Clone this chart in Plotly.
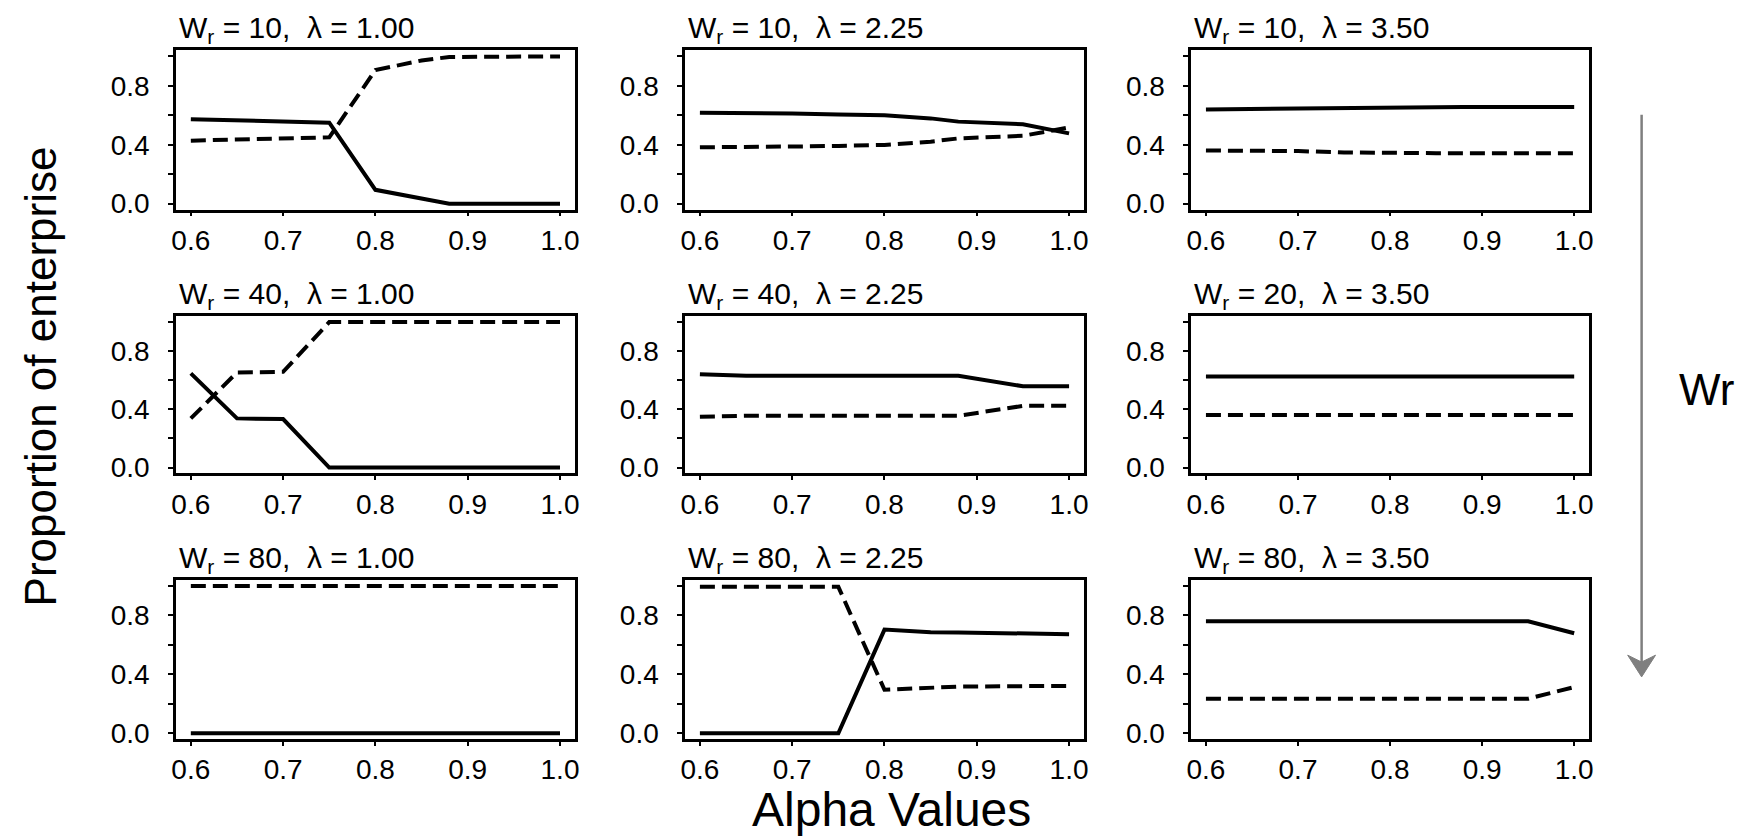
import plotly.graph_objects as go

W, H = 1746, 836
FONT = "Liberation Sans, Arial, sans-serif"

alpha = [0.6, 0.65, 0.7, 0.75, 0.8, 0.85, 0.88, 0.95, 1.0]

w_r_labels = ["10", "10", "10", "40", "40", "20", "80", "80", "80"]
lambda_labels = ["1.00", "2.25", "3.50", "1.00", "2.25", "3.50", "1.00", "2.25", "3.50"]

solid_p1 = [0.573, 0.565, 0.558, 0.550, 0.094, 0.035, 0.0, 0.0, 0.0]
dash_p1 = [0.428, 0.435, 0.443, 0.450, 0.907, 0.972, 0.996, 1.0, 1.0]
solid_p2 = [0.617, 0.617, 0.613, 0.606, 0.600, 0.579, 0.557, 0.539, 0.477]
dash_p2 = [0.383, 0.383, 0.388, 0.392, 0.399, 0.421, 0.443, 0.461, 0.517]
solid_p3 = [0.640, 0.643, 0.646, 0.655, 0.657, 0.657, 0.657, 0.657, 0.657]
dash_p3 = [0.361, 0.359, 0.357, 0.348, 0.343, 0.343, 0.343, 0.343, 0.343]
solid_p4 = [0.647, 0.338, 0.333, 0.0, 0.0, 0.0, 0.0, 0.0, 0.0]
dash_p4 = [0.338, 0.654, 0.658, 1.0, 1.0, 1.0, 1.0, 1.0, 1.0]
solid_p5 = [0.642, 0.631, 0.631, 0.631, 0.631, 0.631, 0.631, 0.559, 0.559]
dash_p5 = [0.349, 0.356, 0.356, 0.356, 0.356, 0.356, 0.356, 0.424, 0.424]
solid_p6 = [0.626, 0.626, 0.626, 0.626, 0.626, 0.626, 0.626, 0.626, 0.626]
dash_p6 = [0.361, 0.361, 0.361, 0.361, 0.361, 0.361, 0.361, 0.361, 0.361]
solid_p7 = [0.0, 0.0, 0.0, 0.0, 0.0, 0.0, 0.0, 0.0, 0.0]
dash_p7 = [1.0, 1.0, 1.0, 1.0, 1.0, 1.0, 1.0, 1.0, 1.0]
solid_p8 = [0.0, 0.0, 0.0, 0.0, 0.704, 0.686, 0.684, 0.679, 0.673]
dash_p8 = [0.994, 0.994, 0.994, 0.994, 0.295, 0.313, 0.317, 0.320, 0.320]
solid_p9 = [0.760, 0.760, 0.760, 0.760, 0.760, 0.760, 0.760, 0.760, 0.679]
dash_p9 = [0.235, 0.235, 0.235, 0.235, 0.235, 0.235, 0.235, 0.235, 0.313]

solids = [solid_p1, solid_p2, solid_p3, solid_p4, solid_p5, solid_p6, solid_p7, solid_p8, solid_p9]
dashes = [dash_p1, dash_p2, dash_p3, dash_p4, dash_p5, dash_p6, dash_p7, dash_p8, dash_p9]

x_tick_vals = [0.6, 0.7, 0.8, 0.9, 1.0]
x_tick_text = ["0.6", "0.7", "0.8", "0.9", "1.0"]
y_tick_vals = [0.0, 0.4, 0.8]
y_tick_text = ["0.0", "0.4", "0.8"]
y_minor_vals = [0.2, 0.6, 1.0]

# panel geometry in pixels
col_px = [(164, 565), (676, 1077), (1185, 1585)]
row_px = [(43, 204), (312, 471), (579, 740)]


def px(x):
    return x / W


def py(y):
    return 1 - y / H


fig = go.Figure()
layout = {}
annotations = []
for i in range(9):
    r, c = divmod(i, 3)
    n = "" if i == 0 else str(i + 1)
    xa, ya = "x" + n, "y" + n
    fig.add_trace(go.Scatter(x=alpha, y=solids[i], mode="lines", xaxis=xa, yaxis=ya,
                             line=dict(color="black", width=4), showlegend=False))
    fig.add_trace(go.Scatter(x=alpha, y=dashes[i], mode="lines", xaxis=xa, yaxis=ya,
                             line=dict(color="black", width=4, dash="15px,7px"), showlegend=False))
    x0, x1 = col_px[c]
    y0, y1 = row_px[r]
    layout["xaxis" + n] = dict(
        domain=[px(x0), px(x1)], anchor=ya, range=[0.584, 1.016],
        tickvals=x_tick_vals, ticktext=x_tick_text, ticks="outside", ticklen=4,
        tickwidth=1.5, tickcolor="black", showline=True, mirror=True, linecolor="black",
        linewidth=2.5, showgrid=False, zeroline=False,
        tickfont=dict(family=FONT, size=28, color="black"))
    layout["yaxis" + n] = dict(
        domain=[py(y1), py(y0)], anchor=xa, range=[-0.04, 1.04],
        tickvals=y_tick_vals, ticktext=y_tick_text, ticks="outside", ticklen=5,
        tickwidth=1.5, tickcolor="black", showline=True, mirror=True, linecolor="black",
        linewidth=2.5, showgrid=False, zeroline=False, ticklabelstandoff=13,
        minor=dict(tickvals=y_minor_vals, ticks="outside", ticklen=5, tickwidth=1.5,
                   tickcolor="black", showgrid=False),
        tickfont=dict(family=FONT, size=28, color="black"))
    annotations.append(dict(
        text="W<sub>r</sub> = " + w_r_labels[i] + ", \u00a0\u03bb = " + lambda_labels[i],
        xref="paper", yref="paper", x=px(x0 + 1), y=py(y0 - 21),
        xanchor="left", yanchor="middle", showarrow=False,
        font=dict(family=FONT, size=30, color="black")))

annotations.append(dict(text="Proportion of enterprise", xref="paper", yref="paper",
                        x=px(28), y=py(373), textangle=-90, showarrow=False,
                        xanchor="center", yanchor="middle",
                        font=dict(family=FONT, size=44, color="black")))
annotations.append(dict(text="Alpha Values", xref="paper", yref="paper",
                        x=px(884), y=py(811), showarrow=False, borderpad=0,
                        xanchor="center", yanchor="middle",
                        font=dict(family=FONT, size=48, color="black")))
annotations.append(dict(text="Wr", xref="paper", yref="paper",
                        x=px(1703), y=py(386), showarrow=False,
                        xanchor="center", yanchor="middle",
                        font=dict(family=FONT, size=44, color="black")))

shapes = [
    dict(type="line", xref="paper", yref="paper", x0=px(1638), x1=px(1638),
         y0=py(108), y1=py(664), line=dict(color="#7f7f7f", width=2.5)),
    dict(type="path", xref="paper", yref="paper",
         path="M {a},{b} L {c},{d} L {e},{f} L {g},{h} Z".format(
             a=px(1624), b=py(655), c=px(1638), d=py(677),
             e=px(1652), f=py(655), g=px(1638), h=py(662)),
         fillcolor="#7f7f7f", line=dict(color="#7f7f7f", width=1)),
]

fig.update_layout(width=W, height=H, margin=dict(l=0, r=0, t=0, b=0),
                  paper_bgcolor="white", plot_bgcolor="white",
                  annotations=annotations, shapes=shapes, **layout)

fig.write_html("out.html")
